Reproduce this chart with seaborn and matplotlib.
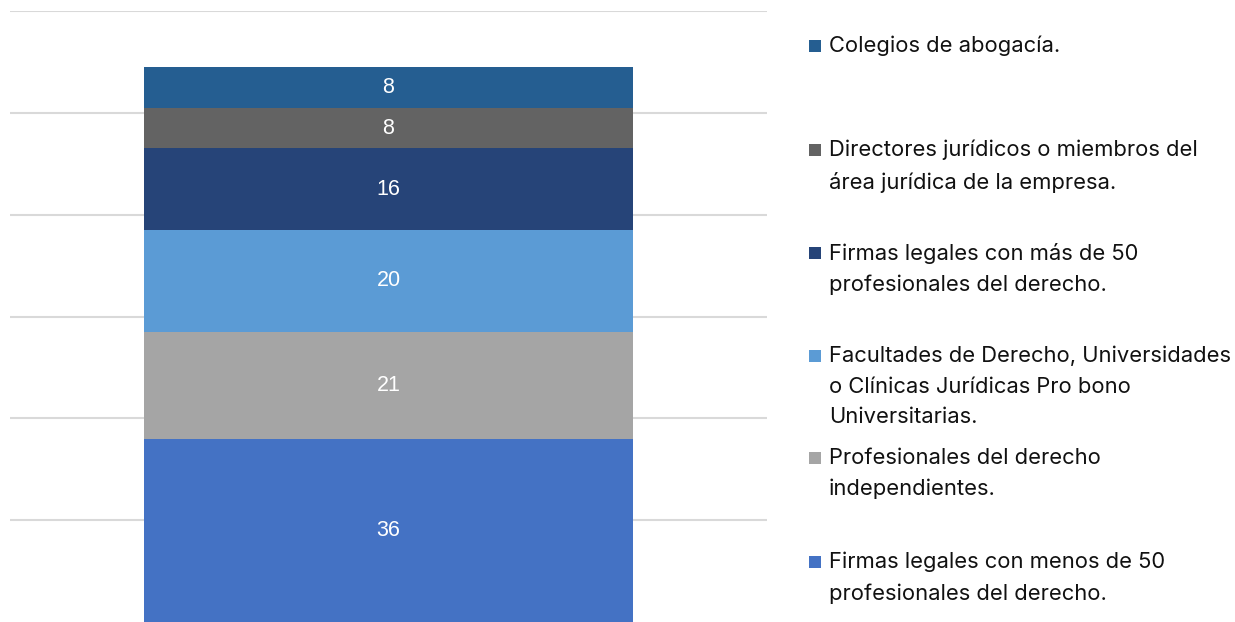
import matplotlib
matplotlib.use("Agg")
import matplotlib.pyplot as plt
import seaborn as sns
import pandas as pd
from matplotlib.patches import Rectangle

# Data (bottom to top)
series = [
    "Firmas legales con menos de 50\nprofesionales del derecho.",
    "Profesionales del derecho\nindependientes.",
    "Facultades de Derecho, Universidades\no Clínicas Jurídicas Pro bono\nUniversitarias.",
    "Firmas legales con más de 50\nprofesionales del derecho.",
    "Directores jurídicos o miembros del\nárea jurídica de la empresa.",
    "Colegios de abogacía.",
]
values = [36, 21, 20, 16, 8, 8]
colors = ["#4472C4", "#A5A5A5", "#5B9BD5", "#264478", "#636363", "#255E91"]
category = ["Total"]

sns.set_theme(style="white")
plt.rcParams['font.family'] = ['Inter', 'DejaVu Sans']

fig = plt.figure(figsize=(12.35, 6.22), dpi=100)
ax = fig.add_axes([10/1235, 0, 757/1235, 611/622])

bottom = 0
for name, val, col in zip(series, values, colors):
    df = pd.DataFrame({"cat": category, "val": [val]})
    sns.barplot(data=df, x="cat", y="val", bottom=bottom, color=col,
                saturation=1, width=0.647, ax=ax, linewidth=0, zorder=3)
    ax.text(0, bottom + val / 2, str(val), ha="center", va="center",
            color="white", fontsize=15.5, family="Liberation Sans", zorder=4)
    bottom += val

ax.set_xlim(-0.5, 0.5)
ax.set_ylim(0, 120)
ax.set_yticks(range(20, 121, 20))
ax.yaxis.grid(True, color="#D9D9D9", linewidth=1.5, zorder=0)
ax.set_axisbelow(True)
ax.set_xticks([])
ax.set_yticklabels([])
ax.tick_params(left=False, bottom=False)
ax.set_xlabel("")
ax.set_ylabel("")
for s in ax.spines.values():
    s.set_visible(False)

# Legend (top to bottom, manually laid out)
W, H = 1235, 622
first_line_centers = [46, 150, 253, 356, 458, 562]
for (name, col), yc in zip(list(zip(series, colors))[::-1], first_line_centers):
    fig.add_artist(Rectangle((809 / W, 1 - (yc + 6) / H), 12 / W, 12 / H,
                             transform=fig.transFigure, facecolor=col,
                             edgecolor="none"))
    fig.text(829 / W, 1 - (yc - 10) / H, name, ha="left", va="top",
             fontsize=15.8, color="#111111", linespacing=1.65)

fig.savefig("out.png", dpi=100)
